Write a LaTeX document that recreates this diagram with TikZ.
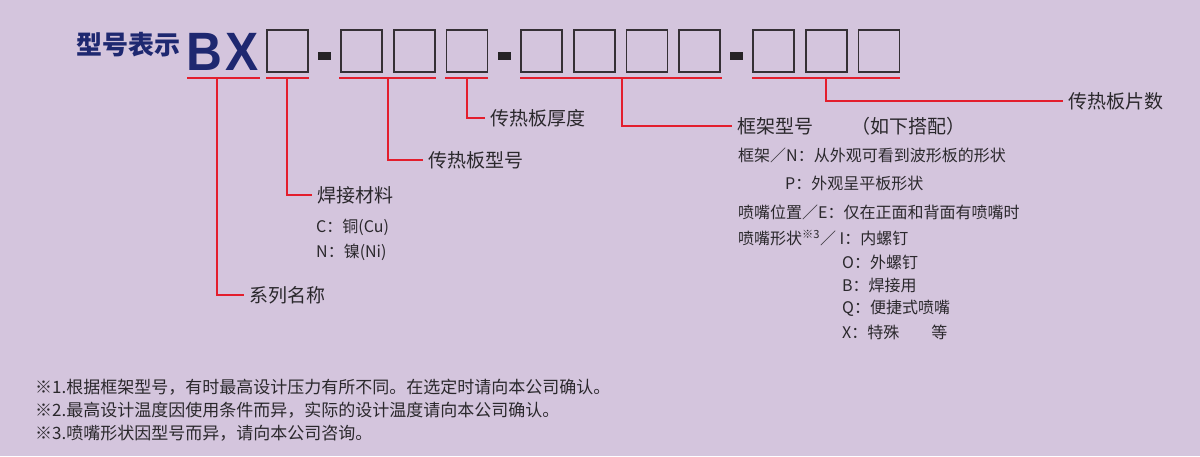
\documentclass[tikz,border=0pt]{standalone}
\usepackage{fontspec}
\usepackage{graphicx}
\setmainfont{Noto Sans CJK SC}
\newfontfamily\bxfont{Liberation Sans}
\definecolor{bgcol}{HTML}{D4C5DD}
\definecolor{navy}{HTML}{1E2870}
\definecolor{redcol}{HTML}{E31E2D}
\definecolor{boxcol}{HTML}{353035}
\definecolor{txtcol}{HTML}{2A282C}

\begin{document}
\begin{tikzpicture}[x=1pt,y=1pt,yscale=-1,xscale=1,
    slot/.style={draw=boxcol, line width=1.7pt, minimum width=41pt, minimum height=42pt, inner sep=0pt},
    dashbar/.style={fill=boxcol!70!black, minimum width=13pt, minimum height=8pt, inner sep=0pt},
    uline/.style={draw=redcol, line width=2.6pt},
    lead/.style={draw=redcol, line width=1.2pt},
    lbl/.style={anchor=west, inner xsep=5pt, inner ysep=0pt, text=txtcol, font=\fontsize{19pt}{22pt}\selectfont},
    small/.style={anchor=west, inner sep=0pt, text=txtcol, font=\fontsize{16pt}{19pt}\selectfont},
    note/.style={anchor=west, inner sep=0pt, text=txtcol, font=\fontsize{17pt}{20pt}\selectfont}]
    \useasboundingbox (0,0) rectangle (1200,456);
    \fill[bgcol] (0,0) rectangle (1200,456);

    % Text Node
    \node[anchor=west, inner sep=0pt, text=navy, font=\bfseries\fontsize{26pt}{28pt}\selectfont] (title) at (76,45) {型号表示};
    % Text Node
    \node[anchor=base, inner sep=0pt, text=navy, font=\bxfont\bfseries\fontsize{54pt}{56pt}\selectfont] (bx) at (222.5,70) {\scalebox{0.92}[1]{B\hspace{4pt}X}};

    %Shape: Rectangle
    \foreach \i/\x in {1/287.5, 2/361.5, 3/414.2, 4/466.9, 5/541.5, 6/594.2, 7/646.9, 8/699.6, 9/773.5, 10/826.2, 11/878.9}
        \node[slot] (b\i) at (\x,51) {};
    \node[dashbar] (d1) at (324.5,56) {};
    \node[dashbar] (d2) at (504,56) {};
    \node[dashbar] (d3) at (736.5,56) {};

    %Straight Lines
    \draw[uline] (187,78) -- (260,78);
    \draw[uline] (266,78) -- (309,78);
    \draw[uline] (339,78) -- (436,78);
    \draw[uline] (445,78) -- (488,78);
    \draw[uline] (520,78) -- (722,78);
    \draw[uline] (752,78) -- (900,78);
    \coordinate (uBX) at (217,78);
    \coordinate (uMat) at (287,78);
    \coordinate (uType) at (388,78);
    \coordinate (uThick) at (467,78);
    \coordinate (uFrame) at (622,78);
    \coordinate (uCount) at (826,78);

    % Text Node
    \node[lbl] (series) at (244,295) {系列名称};
    \node[lbl] (braze) at (312,195) {焊接材料};
    \node[lbl] (ptype) at (423,160) {传热板型号};
    \node[lbl] (pthick) at (485,118) {传热板厚度};
    \node[lbl] (frame) at (732,126) {框架型号　　（如下搭配）};
    \node[lbl] (pcount) at (1063,101) {传热板片数};

    %Connectors
    \draw[lead] (uBX) |- (series.west);
    \draw[lead] (uMat) |- (braze.west);
    \draw[lead] (uType) |- (ptype.west);
    \draw[lead] (uThick) |- (pthick.west);
    \draw[lead] (uFrame) |- (frame.west);
    \draw[lead] (uCount) |- (pcount.west);

    % Text Node
    \node[small] (cu) at (316,227) {C：铜(Cu)};
    \node[small] (ni) at (316,252) {N：镍(Ni)};

    % Text Node
    \node[small] (fN) at (738,155) {框架／N：从外观可看到波形板的形状};
    \node[small] (fP) at (785,183) {P：外观呈平板形状};
    \node[small] (nE) at (738,212) {喷嘴位置／E：仅在正面和背面有喷嘴时};
    \node[small] (nI) at (738,238) {喷嘴形状\textsuperscript{※3}／ I：内螺钉};
    \foreach \n/\y/\t in {nO/262/O：外螺钉, nB/285/B：焊接用, nQ/308/Q：便捷式喷嘴, nX/332/X：特殊　　等}
        \node[small] (\n) at (842,\y) {\t};

    % Text Node
    \node[note] (note1) at (35,387) {※1.根据框架型号，有时最高设计压力有所不同。在选定时请向本公司确认。};
    \node[note] (note2) at (35,410) {※2.最高设计温度因使用条件而异，实际的设计温度请向本公司确认。};
    \node[note] (note3) at (35,433) {※3.喷嘴形状因型号而异，请向本公司咨询。};
\end{tikzpicture}
\end{document}
